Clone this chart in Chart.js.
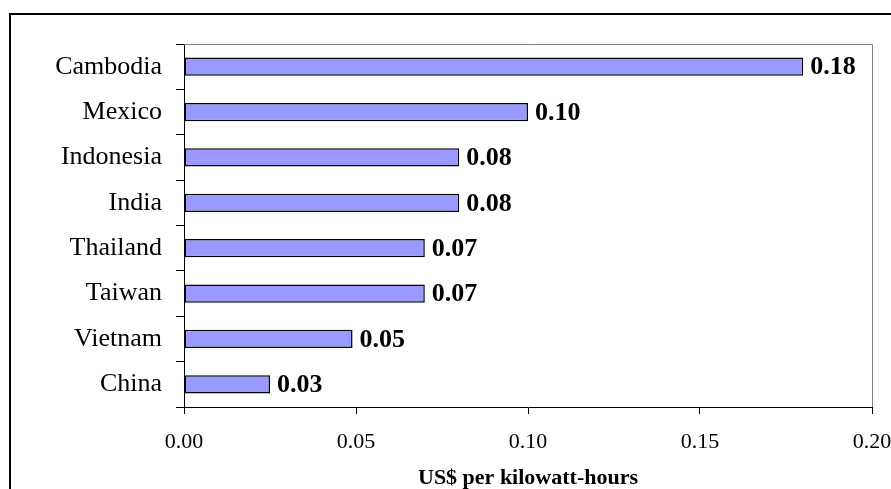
<!DOCTYPE html>
<html>
<head>
<meta charset="utf-8">
<script src="https://cdn.jsdelivr.net/npm/chart.js@4/dist/chart.umd.min.js"></script>
<style>
  html, body { margin: 0; padding: 0; background: #ffffff; }
  #wrap { width: 891px; height: 489px; position: relative; }
</style>
</head>
<body>
<div id="wrap"><canvas id="c" width="891" height="489"></canvas></div>
<script>
// Electricity tariffs by country
const countries = ['Cambodia', 'Mexico', 'Indonesia', 'India', 'Thailand', 'Taiwan', 'Vietnam', 'China'];
const pricePerKwh = [0.18, 0.10, 0.08, 0.08, 0.07, 0.07, 0.049, 0.025];
const xTickValues = [0.00, 0.05, 0.10, 0.15, 0.20];
const axisTitle = 'US$ per kilowatt-hours';

const SERIF = '"Liberation Serif", "Times New Roman", serif';

// Frame around the whole figure plus grey top/right edges of the plot area
const framePlugin = {
  id: 'frame',
  beforeDraw(chart) {
    const ctx = chart.ctx;
    ctx.save();
    ctx.fillStyle = '#ffffff';
    ctx.fillRect(0, 0, chart.width, chart.height);
    ctx.strokeStyle = '#000000';
    ctx.lineWidth = 2;
    ctx.strokeRect(10, 14, 920, 520);
    ctx.restore();
  },
  beforeDatasetsDraw(chart) {
    const a = chart.chartArea;
    const ctx = chart.ctx;
    ctx.save();
    ctx.strokeStyle = '#808080';
    ctx.lineWidth = 1;
    ctx.beginPath();
    ctx.moveTo(a.left, a.top + 0.5);
    ctx.lineTo(a.right + 0.5, a.top + 0.5);
    ctx.lineTo(a.right + 0.5, a.bottom);
    ctx.stroke();
    ctx.restore();
  }
};

// Value labels at the end of each bar
const valueLabelPlugin = {
  id: 'valueLabels',
  afterDatasetsDraw(chart) {
    const ctx = chart.ctx;
    const meta = chart.getDatasetMeta(0);
    const values = chart.data.datasets[0].data;
    ctx.save();
    ctx.font = 'bold 26px ' + SERIF;
    ctx.fillStyle = '#000000';
    ctx.textAlign = 'left';
    ctx.textBaseline = 'middle';
    meta.data.forEach((bar, i) => {
      ctx.fillText(values[i].toFixed(2), bar.x + 7, bar.y + 1);
    });
    ctx.restore();
  }
};

new Chart(document.getElementById('c'), {
  type: 'bar',
  data: {
    labels: countries,
    datasets: [{
      data: pricePerKwh,
      backgroundColor: '#9999ff',
      borderColor: '#000000',
      borderWidth: 1.5,
      borderSkipped: false,
      barPercentage: 0.4,
      categoryPercentage: 1.0
    }]
  },
  options: {
    indexAxis: 'y',
    responsive: false,
    animation: false,
    devicePixelRatio: 1,
    layout: { padding: { top: 44, right: 19, bottom: 0, left: 0 } },
    plugins: {
      legend: { display: false },
      tooltip: { enabled: false }
    },
    scales: {
      x: {
        min: 0,
        max: 0.2,
        afterBuildTicks(scale) {
          scale.ticks = xTickValues.map(v => ({ value: v }));
        },
        afterFit(scale) {
          scale.height = 82;
          scale.paddingLeft = 0;
          scale.paddingRight = 0;
        },
        grid: {
          drawOnChartArea: false,
          drawTicks: true,
          tickLength: 7,
          color: '#000000'
        },
        border: { display: true, color: '#000000', width: 1 },
        ticks: {
          color: '#000000',
          font: { family: SERIF, size: 22 },
          padding: 15,
          maxRotation: 0,
          autoSkip: false,
          callback: v => Number(v).toFixed(2)
        },
        title: {
          display: true,
          text: axisTitle,
          color: '#000000',
          font: { family: SERIF, size: 22, weight: 'bold', lineHeight: 1.0 },
          padding: { top: 0, bottom: 0 }
        }
      },
      y: {
        afterFit(scale) {
          scale.width = 184;
        },
        grid: {
          offset: true,
          drawOnChartArea: false,
          drawTicks: true,
          tickLength: 8,
          color: '#000000'
        },
        border: { display: true, color: '#000000', width: 1 },
        ticks: {
          color: '#000000',
          font: { family: SERIF, size: 26 },
          padding: 14,
          autoSkip: false
        }
      }
    }
  },
  plugins: [framePlugin, valueLabelPlugin]
});
</script>
</body>
</html>
